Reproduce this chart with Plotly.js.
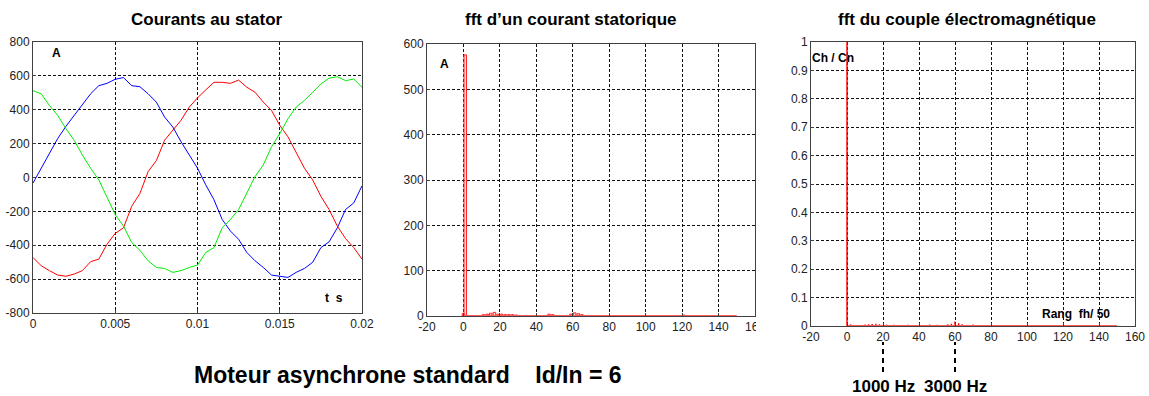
<!DOCTYPE html>
<html>
<head>
<meta charset="utf-8">
<script src="https://cdn.plot.ly/plotly-3.0.1.min.js"></script>
<style>html,body{margin:0;padding:0;background:#fff;}#chart{width:1149px;height:396px;}</style>
</head>
<body>
<div id="chart"></div>
<script>
// ---- Courants au stator (A) ----
const timeS = [0,0.0005,0.001,0.0015,0.002,0.0025,0.003,0.0035,0.004,0.0045,0.005,0.0055,0.006,0.0065,0.007,0.0075,0.008,0.0085,0.009,0.0095,0.01,0.0105,0.011,0.0115,0.012,0.0125,0.013,0.0135,0.014,0.0145,0.015,0.0155,0.016,0.0165,0.017,0.0175,0.018,0.0185,0.019,0.0195,0.02];
const currentBlue  = [-33,55,142,230,302,367,435,494,542,556,580,590,542,536,494,445,357,298,211,133,55,-43,-131,-248,-316,-365,-443,-492,-531,-576,-585,-590,-560,-537,-501,-414,-380,-297,-189,-150,-49];
const currentRed   = [-472,-521,-550,-576,-583,-570,-550,-497,-482,-394,-330,-297,-170,-94,35,100,220,279,338,416,470,517,562,562,556,575,533,503,445,396,308,240,152,55,-14,-111,-189,-287,-361,-414,-482];
const currentGreen = [513,494,425,367,289,220,133,55,-14,-121,-219,-287,-384,-430,-492,-531,-537,-560,-550,-531,-517,-443,-414,-297,-248,-189,-92,6,74,181,259,347,416,455,503,552,587,595,572,581,533];

// ---- fft d'un courant statorique (A) ----
const statorRanks = [0,1,11,13,15,17,19,21,23,25,27,29,31,33,47,49,53,59,61,63,65,71,121];
const statorAmps  = [5,576,3,4,6,8,4,4,3,3,3,2,1,1,4,3,1,4,7,5,3,1,2];

// ---- fft du couple électromagnétique (Ch/Cn) ----
const torqueRanks = [0,2,10,12,14,16,18,22,26,34,46,50,56,58,60,62,64,70];
const torqueVals  = [1,0.006,0.005,0.006,0.007,0.008,0.006,0.005,0.004,0.004,0.005,0.004,0.006,0.008,0.016,0.01,0.006,0.005];

const spectrumSpan = [0,150];   // ranks covered by the computed spectra
const markerRanks  = [20,60];
const markerLabels = ['1000 Hz','3000 Hz'];

// ---- tick labels ----
const yTicks1 = [-800,-600,-400,-200,0,200,400,600,800];
const yText1  = ['-800','-600','-400','-200','0','200','400','600','800'];
const xTicks1 = [0,0.005,0.01,0.015,0.02];
const xText1  = ['0','0.005','0.01','0.015','0.02'];
const xTicksF = [-20,0,20,40,60,80,100,120,140,160];
const xTextF  = ['-20','0','20','40','60','80','100','120','140','160'];
const yTicks2 = [0,100,200,300,400,500,600];
const yTicks3 = [0,0.1,0.2,0.3,0.4,0.5,0.6,0.7,0.8,0.9,1];
const yText3  = ['0','0.1','0.2','0.3','0.4','0.5','0.6','0.7','0.8','0.9','1'];

const W = 1149, H = 396;
const px = v => v / W;
const py = v => 1 - v / H;

const tickFont = {family:'Liberation Sans, Arial, sans-serif', size:12, color:'#222'};
const boldFont = s => ({family:'Liberation Sans, Arial, sans-serif', size:s, color:'#000', weight:'bold'});

function axisBase(extra) {
  return Object.assign({
    showline:true, linecolor:'#404040', linewidth:1, mirror:true,
    ticks:'inside', ticklen:3, tickcolor:'#404040',
    showgrid:true, gridcolor:'#111', gridwidth:1, griddash:'3px,2px',
    zeroline:false, tickfont:tickFont, fixedrange:true
  }, extra);
}

const traces = [
  {x:timeS, y:currentBlue,  type:'scatter', mode:'lines', line:{color:'#0000ff', width:1}, xaxis:'x', yaxis:'y'},
  {x:timeS, y:currentRed,   type:'scatter', mode:'lines', line:{color:'#ff0000', width:1}, xaxis:'x', yaxis:'y'},
  {x:timeS, y:currentGreen, type:'scatter', mode:'lines', line:{color:'#00ee00', width:1}, xaxis:'x', yaxis:'y'},

  {x:spectrumSpan, y:[0,0], type:'scatter', mode:'lines', line:{color:'#ff5a5a', width:2}, xaxis:'x2', yaxis:'y2'},
  {x:statorRanks, y:statorAmps, type:'bar', width:1.4,
   marker:{color:'rgba(255,140,140,0.35)', line:{color:'#ff2020', width:1}}, xaxis:'x2', yaxis:'y2'},

  {x:spectrumSpan, y:[0,0], type:'scatter', mode:'lines', line:{color:'#ff5a5a', width:2}, xaxis:'x3', yaxis:'y3'},
  {x:torqueRanks, y:torqueVals, type:'bar', width:0.8,
   marker:{color:'#ff0000', line:{width:0}}, xaxis:'x3', yaxis:'y3'}
];

const shapes = [
  // image crop at the right of the middle panel
  {type:'rect', xref:'paper', yref:'paper', x0:px(756), x1:px(795), y0:py(340), y1:py(317),
   fillcolor:'#fff', line:{width:0}, layer:'above'}
];
markerRanks.forEach(r => {
  shapes.push({type:'line', xref:'x3', yref:'paper', x0:r, x1:r, y0:py(372), y1:py(342),
    line:{color:'#000', width:2, dash:'5px,4px'}});
});

const annotations = [
  {text:'Courants au stator', x:px(207), y:py(20)},
  {text:'fft d’un courant statorique', x:px(571), y:py(20)},
  {text:'fft du couple électromagnétique', x:px(967), y:py(20)}
].map(a => Object.assign({xref:'paper', yref:'paper', showarrow:false, xanchor:'center', yanchor:'middle', font:boldFont(17)}, a));

annotations.push(
  {text:'A', x:px(50), y:py(53), xanchor:'left'},
  {text:'t\u00a0\u00a0s', x:px(323), y:py(298), xanchor:'left'},
  {text:'A', x:px(438), y:py(64), xanchor:'left'},
  {text:'Ch / Cn', x:px(810), y:py(58), xanchor:'left'},
  {text:'Rang\u00a0\u00a0fh/ 50', x:px(1040), y:py(314), xanchor:'left'}
);
for (let i = 3; i < annotations.length; i++) {
  Object.assign(annotations[i], {xref:'paper', yref:'paper', showarrow:false, yanchor:'middle', font:boldFont(12)});
}
annotations.push({text:'Moteur asynchrone standard\u00a0\u00a0\u00a0 Id/In = 6', xref:'paper', yref:'paper',
  x:px(408), y:py(375), showarrow:false, xanchor:'center', yanchor:'middle', font:boldFont(23)});
markerRanks.forEach((r, i) => {
  annotations.push({text:markerLabels[i], xref:'x3', yref:'paper', x:r, y:py(386), showarrow:false,
    xanchor:'center', yanchor:'middle', font:boldFont(17)});
});

const layout = {
  width:W, height:H, margin:{l:0, r:0, t:0, b:0},
  paper_bgcolor:'#fff', plot_bgcolor:'#fff', showlegend:false, barmode:'overlay',
  xaxis: axisBase({domain:[px(33), px(362)], range:[0,0.02], tickvals:xTicks1, ticktext:xText1, anchor:'y'}),
  yaxis: axisBase({domain:[py(313), py(42)], range:[-800,800], tickvals:yTicks1, ticktext:yText1, anchor:'x'}),
  xaxis2: axisBase({domain:[px(427), px(755)], range:[-20,160], tickvals:xTicksF, ticktext:xTextF, anchor:'y2'}),
  yaxis2: axisBase({domain:[py(316), py(44)], range:[0,600], tickvals:yTicks2, anchor:'x2'}),
  xaxis3: axisBase({domain:[px(811), px(1135)], range:[-20,160], tickvals:xTicksF, ticktext:xTextF, anchor:'y3'}),
  yaxis3: axisBase({domain:[py(326), py(42)], range:[0,1], tickvals:yTicks3, ticktext:yText3, anchor:'x3'}),
  shapes: shapes,
  annotations: annotations
};

Plotly.newPlot('chart', traces, layout, {staticPlot:true, displayModeBar:false});
</script>
</body>
</html>
